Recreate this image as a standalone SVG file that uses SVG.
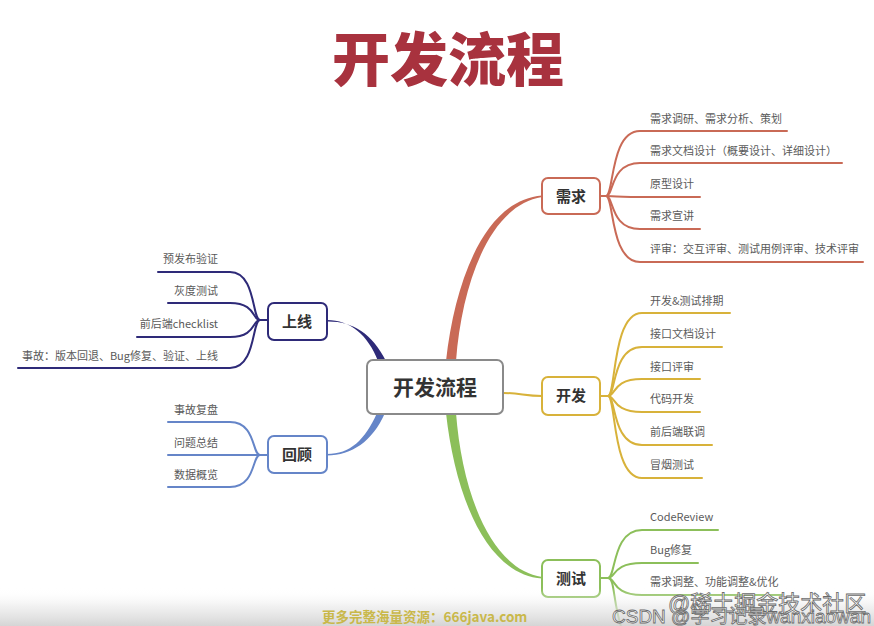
<svg xmlns="http://www.w3.org/2000/svg" width="874" height="626" viewBox="0 0 874 626">
<defs>
<linearGradient id="band" x1="0" y1="0" x2="0" y2="1">
<stop offset="0" stop-color="#ffffff" stop-opacity="0"/>
<stop offset="0.5" stop-color="#e6e6e6" stop-opacity="0.6"/>
<stop offset="1" stop-color="#d0d0d0" stop-opacity="0.9"/>
</linearGradient>
</defs>
<style>
.cjk{font-family:"Noto Sans CJK SC","Noto Sans",sans-serif}
.title{font-size:58px;font-weight:900;fill:#a8323e}
.node rect{fill:#ffffff;stroke-width:2}
.lbl{font-size:15px;font-weight:700;fill:#333333}
.item{font-size:11px;fill:#5a5a5a}
.br{fill:none;stroke-width:2;stroke-linecap:round}
.wm{font-family:"Liberation Sans","Noto Sans CJK SC",sans-serif;fill:#ffffff;stroke:#6a6a6a;stroke-width:0.8}
</style>
<rect x="0" y="0" width="874" height="626" fill="#ffffff"/>
<text class="cjk title" x="448" y="81" text-anchor="middle">开发流程</text>

<g id="connectors">
<path d="M446 361 C455 280 485 200 542 195.5 L542 197 C490 205 462 283 456 361 Z" fill="#c96a56"/>
<path d="M446 413 C455 494 485 574 542 578.5 L542 577 C490 569 462 491 456 413 Z" fill="#8cbf5a"/>
<path d="M327 320 C350 320 368 335 378 361 L386 361 C372 333 352 321 327 321.5 Z" fill="#2e2a78"/>
<path d="M327 454 C350 454 365 440 377 413 L385 413 C372 442 352 455 327 455.5 Z" fill="#6585c8"/>
<path class="br" d="M503 393 C520 393 525 396 542 396" stroke="#d8b23a"/>
<g stroke="#c96a56" class="br">
<path class="br" d="M600 196 L606 196 C614 196 610 131 640 131 L787 131"/>
<path class="br" d="M606 196 C614 196 610 163 640 163 L842 163"/>
<path class="br" d="M606 196 C614 196 610 197 640 197 L700 197"/>
<path class="br" d="M606 196 C614 196 610 229 640 229 L700 229"/>
<path class="br" d="M606 196 C614 196 610 262 640 262 L863 262"/>
</g>
<g stroke="#d8b23a" class="br">
<path class="br" d="M600 396 L608 396 C616 396 612 313 642 313 L730 313"/>
<path class="br" d="M608 396 C616 396 612 347 642 347 L722 347"/>
<path class="br" d="M608 396 C616 396 612 379 642 379 L700 379"/>
<path class="br" d="M608 396 C616 396 612 412 642 412 L700 412"/>
<path class="br" d="M608 396 C616 396 612 445 642 445 L712 445"/>
<path class="br" d="M608 396 C616 396 612 478 642 478 L702 478"/>
</g>
<g stroke="#8cbf5a" class="br">
<path class="br" d="M600 578 L608 578 C616 578 612 530 642 530 L718 530"/>
<path class="br" d="M608 578 C616 578 612 563 642 563 L698 563"/>
<path class="br" d="M608 578 C616 578 612 595 642 595 L783 595"/>
<path class="br" d="M608 578 C616 578 612 610 626 640"/>
</g>
<g stroke="#2e2a78" class="br">
<path class="br" d="M268 320 L260 320 C252 320 256 272 230 272 L158 272"/>
<path class="br" d="M260 320 C252 320 256 303 230 303 L168 303"/>
<path class="br" d="M260 320 C252 320 256 337 230 337 L137 337"/>
<path class="br" d="M260 320 C252 320 256 368 230 368 L18 368"/>
</g>
<g stroke="#6585c8" class="br">
<path class="br" d="M268 455 L260 455 C252 455 256 422 230 422 L168 422"/>
<path class="br" d="M260 455 L168 455"/>
<path class="br" d="M260 455 C252 455 256 487 230 487 L168 487"/>
</g>
</g>

<g id="n-root" class="node">
<rect x="367" y="360" width="136" height="54" rx="6" stroke="#8a8a8a"/>
<text class="cjk" x="435" y="395" text-anchor="middle" font-size="21" font-weight="700" fill="#333333">开发流程</text>
</g>
<g id="n-xuqiu" class="node">
<rect x="542" y="178" width="58" height="36" rx="6" stroke="#c96a56"/>
<text class="cjk lbl" x="571" y="202" text-anchor="middle">需求</text>
</g>
<g id="n-kaifa" class="node">
<rect x="542" y="377" width="58" height="38" rx="6" stroke="#d8b23a"/>
<text class="cjk lbl" x="571" y="401" text-anchor="middle">开发</text>
</g>
<g id="n-ceshi" class="node">
<rect x="542" y="560" width="58" height="37" rx="6" stroke="#8cbf5a"/>
<text class="cjk lbl" x="571" y="584" text-anchor="middle">测试</text>
</g>
<g id="n-shangxian" class="node">
<rect x="268" y="303" width="59" height="37" rx="6" stroke="#2e2a78"/>
<text class="cjk lbl" x="297" y="327" text-anchor="middle">上线</text>
</g>
<g id="n-huigu" class="node">
<rect x="268" y="436" width="59" height="37" rx="6" stroke="#6585c8"/>
<text class="cjk lbl" x="297" y="460" text-anchor="middle">回顾</text>
</g>

<g id="items-xuqiu" class="cjk item">
<text x="650" y="123">需求调研、需求分析、策划</text>
<text x="650" y="155">需求文档设计（概要设计、详细设计）</text>
<text x="650" y="188">原型设计</text>
<text x="650" y="220">需求宣讲</text>
<text x="650" y="253">评审：交互评审、测试用例评审、技术评审</text>
</g>
<g id="items-kaifa" class="cjk item">
<text x="650" y="305">开发&amp;测试排期</text>
<text x="650" y="338">接口文档设计</text>
<text x="650" y="371">接口评审</text>
<text x="650" y="403">代码开发</text>
<text x="650" y="436">前后端联调</text>
<text x="650" y="469">冒烟测试</text>
</g>
<g id="items-ceshi" class="cjk item">
<text x="650" y="521">CodeReview</text>
<text x="650" y="554">Bug修复</text>
<text x="650" y="586">需求调整、功能调整&amp;优化</text>
</g>
<g id="items-shangxian" class="cjk item" text-anchor="end">
<text x="218" y="263">预发布验证</text>
<text x="218" y="295">灰度测试</text>
<text x="218" y="328">前后端checklist</text>
<text x="218" y="360">事故：版本回退、Bug修复、验证、上线</text>
</g>
<g id="items-huigu" class="cjk item" text-anchor="end">
<text x="218" y="414">事故复盘</text>
<text x="218" y="447">问题总结</text>
<text x="218" y="479">数据概览</text>
</g>

<rect x="0" y="588" width="874" height="38" fill="url(#band)"/>
<text class="cjk" x="322" y="622" font-size="13.5" font-weight="700" fill="#c9b84a">更多完整海量资源：666java.com</text>
<text class="wm" x="668" y="611" font-size="22">@稀土掘金技术社区</text>
<text class="wm" x="612" y="623" font-size="19">CSDN @学习记录wanxiaowan</text>
</svg>
